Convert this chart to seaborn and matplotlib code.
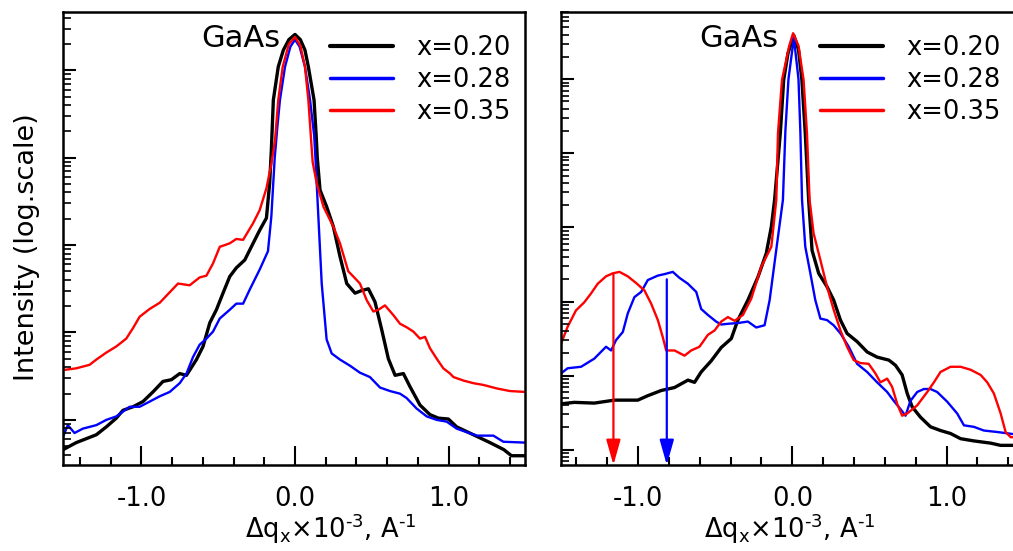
import numpy as np
import pandas as pd
import matplotlib
matplotlib.use('Agg')
import matplotlib.pyplot as plt
import matplotlib.ticker as mticker
import seaborn as sns

# Datos: q en 1e-3 A^-1, intensidad en log10
labels = ['x=0.20', 'x=0.28', 'x=0.35']
colores = ['#000000', '#0000ff', '#ff0000']
anchos = [2.4, 1.7, 1.7]
anchos_leyenda = [3.0, 2.5, 2.5]

# Panel izquierdo
q_l_020 = [-1.51, -1.425, -1.294, -1.229, -1.164, -1.12, -1.055, -0.99, -0.925, -0.86, -0.805, -0.751,
           -0.707, -0.642, -0.599, -0.555, -0.512, -0.469, -0.425, -0.382, -0.327, -0.273, -0.230,
           -0.186, -0.165, -0.154, -0.141, -0.109, -0.076, -0.04, 0.0, 0.035, 0.065, 0.087, 0.124,
           0.138, 0.145, 0.163, 0.206, 0.25, 0.293, 0.337, 0.391, 0.434, 0.478, 0.521, 0.565, 0.608,
           0.652, 0.706, 0.749, 0.814, 0.879, 0.934, 0.999, 1.053, 1.162, 1.27, 1.36, 1.41, 1.50]
logI_l_020 = [0.66, 0.74, 0.83, 0.92, 1.02, 1.11, 1.15, 1.21, 1.32, 1.44, 1.46, 1.53,
              1.51, 1.69, 1.84, 2.11, 2.26, 2.45, 2.64, 2.74, 2.83, 3.02, 3.17,
              3.31, 3.71, 4.09, 4.66, 5.04, 5.23, 5.35, 5.41, 5.35, 5.23, 5.04, 4.66,
              4.25, 4.00, 3.63, 3.44, 3.21, 2.87, 2.56, 2.45, 2.48, 2.50, 2.35, 2.03, 1.70,
              1.51, 1.53, 1.38, 1.17, 1.06, 1.02, 1.01, 0.92, 0.83, 0.74, 0.66, 0.59, 0.59]

q_l_028 = [-1.51, -1.48, -1.436, -1.382, -1.294, -1.229, -1.164, -1.077, -1.012, -0.946, -0.881,
           -0.816, -0.751, -0.707, -0.664, -0.621, -0.577, -0.534, -0.490, -0.425, -0.382, -0.338,
           -0.295, -0.23, -0.176, -0.154, -0.132, -0.115, -0.098, -0.065, -0.03, 0.0, 0.03, 0.065,
           0.098, 0.125, 0.133, 0.152, 0.174, 0.206, 0.239, 0.293, 0.358, 0.423, 0.488, 0.554,
           0.619, 0.684, 0.727, 0.792, 0.858, 0.923, 0.988, 1.053, 1.118, 1.184, 1.292, 1.357, 1.50]
logI_l_028 = [0.81, 0.94, 0.85, 0.90, 0.94, 1.00, 1.04, 1.15, 1.15, 1.21, 1.27,
              1.32, 1.42, 1.53, 1.72, 1.86, 1.93, 2.01, 2.16, 2.26, 2.33, 2.33,
              2.49, 2.72, 2.93, 3.33, 4.00, 4.35, 4.66, 5.04, 5.27, 5.35, 5.27, 5.04,
              4.66, 4.25, 4.00, 3.33, 2.56, 1.92, 1.76, 1.69, 1.62, 1.54, 1.49, 1.37,
              1.33, 1.30, 1.25, 1.13, 1.04, 1.00, 0.98, 0.90, 0.86, 0.82, 0.82, 0.75, 0.74]

q_l_035 = [-1.51, -1.425, -1.338, -1.294, -1.229, -1.164, -1.099, -1.055, -1.012, -0.946, -0.881,
           -0.816, -0.762, -0.686, -0.621, -0.577, -0.534, -0.490, -0.425, -0.382, -0.338, -0.273,
           -0.230, -0.186, -0.154, -0.13, -0.109, -0.080, -0.04, 0.0, 0.035, 0.065, 0.087, 0.105,
           0.115, 0.141, 0.185, 0.25, 0.293, 0.347, 0.380, 0.423, 0.467, 0.510, 0.543, 0.586,
           0.640, 0.684, 0.727, 0.771, 0.814, 0.847, 0.879, 0.923, 0.966, 1.010, 1.032, 1.097,
           1.162, 1.227, 1.314, 1.40, 1.50]
logI_l_035 = [1.57, 1.59, 1.63, 1.69, 1.77, 1.84, 1.93, 2.05, 2.18, 2.27, 2.34,
              2.46, 2.56, 2.54, 2.63, 2.65, 2.79, 2.98, 3.02, 3.07, 3.06, 3.25,
              3.40, 3.65, 3.93, 4.20, 4.66, 5.04, 5.30, 5.38, 5.28, 5.04, 4.66, 4.20,
              3.95, 3.71, 3.44, 3.21, 3.02, 2.70, 2.64, 2.56, 2.37, 2.24, 2.26, 2.31,
              2.20, 2.10, 2.06, 2.01, 1.93, 1.95, 1.82, 1.70, 1.59, 1.53, 1.49, 1.45,
              1.42, 1.40, 1.36, 1.33, 1.32]

# Panel derecho
q_r_020 = [-1.50, -1.414, -1.284, -1.154, -1.002, -0.937, -0.850, -0.764, -0.677, -0.634, -0.591,
           -0.526, -0.461, -0.396, -0.353, -0.288, -0.223, -0.169, -0.136, -0.115, -0.078, -0.056,
           -0.028, 0.01, 0.04, 0.062, 0.084, 0.106, 0.128, 0.171, 0.225, 0.268, 0.312, 0.355, 0.42,
           0.485, 0.55, 0.626, 0.669, 0.712, 0.745, 0.777, 0.831, 0.896, 0.961, 1.026, 1.091,
           1.177, 1.286, 1.35, 1.44]
logI_r_020 = [0.62, 0.64, 0.63, 0.67, 0.67, 0.73, 0.80, 0.84, 0.94, 0.91, 1.05,
              1.20, 1.38, 1.50, 1.75, 2.02, 2.33, 2.65, 3.01, 3.37, 4.27, 4.99,
              5.35, 5.59, 5.40, 4.99, 4.27, 3.37, 2.69, 2.38, 2.20, 2.02, 1.75, 1.57, 1.46,
              1.32, 1.25, 1.21, 1.14, 1.01, 0.76, 0.58, 0.44, 0.31, 0.26, 0.22, 0.15,
              0.12, 0.09, 0.06, 0.06]

q_r_028 = [-1.50, -1.457, -1.370, -1.284, -1.208, -1.175, -1.143, -1.099, -1.067, -1.024, -0.980,
           -0.937, -0.872, -0.829, -0.775, -0.732, -0.677, -0.623, -0.591, -0.548, -0.494, -0.461,
           -0.418, -0.353, -0.288, -0.234, -0.180, -0.147, -0.104, -0.061, -0.045, -0.025, 0.01,
           0.04, 0.052, 0.063, 0.084, 0.117, 0.149, 0.182, 0.225, 0.268, 0.312, 0.366, 0.42, 0.485,
           0.55, 0.615, 0.658, 0.701, 0.734, 0.766, 0.81, 0.853, 0.896, 0.939, 1.004, 1.069,
           1.113, 1.177, 1.242, 1.329, 1.44]
logI_r_028 = [1.03, 1.10, 1.12, 1.23, 1.39, 1.34, 1.48, 1.59, 1.84, 2.06, 2.13,
              2.29, 2.35, 2.37, 2.40, 2.32, 2.24, 2.13, 1.90, 1.82, 1.73, 1.69,
              1.70, 1.71, 1.73, 1.65, 1.68, 2.02, 2.70, 3.37, 4.30, 5.00, 5.56,
              5.00, 4.30, 3.37, 2.74, 2.38, 2.02, 1.77, 1.75, 1.68, 1.57, 1.39, 1.16, 1.05,
              0.91, 0.78, 0.66, 0.55, 0.46, 0.66, 0.78, 0.82, 0.82, 0.78, 0.65, 0.49,
              0.33, 0.31, 0.26, 0.24, 0.21]

q_r_035 = [-1.50, -1.457, -1.403, -1.349, -1.305, -1.262, -1.208, -1.165, -1.121, -1.067, -1.013,
           -0.959, -0.915, -0.872, -0.840, -0.818, -0.764, -0.699, -0.656, -0.602, -0.548, -0.504,
           -0.461, -0.418, -0.374, -0.320, -0.266, -0.201, -0.136, -0.104, -0.093, -0.067, -0.02,
           0.005, 0.04, 0.073, 0.095, 0.112, 0.138, 0.182, 0.225, 0.268, 0.312, 0.355, 0.398,
           0.442, 0.495, 0.539, 0.571, 0.615, 0.647, 0.680, 0.712, 0.745, 0.81, 0.875, 0.918,
           0.961, 1.026, 1.091, 1.156, 1.221, 1.264, 1.307, 1.351, 1.383, 1.416, 1.44]
logI_r_035 = [1.43, 1.66, 1.88, 1.99, 2.11, 2.24, 2.34, 2.38, 2.40, 2.34, 2.25,
              2.15, 1.97, 1.75, 1.52, 1.34, 1.34, 1.27, 1.34, 1.39, 1.55, 1.61,
              1.73, 1.79, 1.74, 1.82, 2.04, 2.47, 2.74, 3.37, 4.27, 4.99, 5.45,
              5.62, 5.45, 4.99, 4.27, 3.37, 2.92, 2.56, 2.20, 1.89, 1.61, 1.39, 1.21,
              1.17, 1.16, 1.03, 0.91, 0.96, 0.85, 0.62, 0.46, 0.49, 0.60, 0.78, 0.91,
              1.05, 1.12, 1.12, 1.08, 1.01, 0.91, 0.76, 0.49, 0.24, 0.17, 0.17]

# Flechas del panel derecho
flecha_q = [-1.16, -0.814]
flecha_logI = [2.38, 2.30]
flecha_col = ['#ff0000', '#0000ff']

sns.set_style('ticks')
plt.rcParams['font.family'] = ['DejaVu Sans']
plt.rcParams['mathtext.fontset'] = 'dejavusans'
plt.rcParams['xtick.bottom'] = True
plt.rcParams['ytick.left'] = True
plt.rcParams['axes.axisbelow'] = False
plt.rcParams['text.color'] = 'black'
plt.rcParams['axes.labelcolor'] = 'black'
plt.rcParams['xtick.color'] = 'black'
plt.rcParams['ytick.color'] = 'black'

fig = plt.figure(figsize=(10.13, 5.51), dpi=100)
ax1 = fig.add_axes([63 / 1013, 86 / 551, 462 / 1013, 453.3 / 551])
ax2 = fig.add_axes([561 / 1013, 86 / 551, 452 / 1013, 453.3 / 551])

paneles = [
    (ax1, [(q_l_020, logI_l_020), (q_l_028, logI_l_028), (q_l_035, logI_l_035)], (0.484, 5.67), (-1.511, 1.498)),
    (ax2, [(q_r_020, logI_r_020), (q_r_028, logI_r_028), (q_r_035, logI_r_035)], (-0.205, 5.91), (-1.50, 1.431)),
]

etiqueta_x = r'$\Delta$q$_\mathregular{x}$×10$^\mathregular{‐3}$, A$^\mathregular{‐1}$'

for ax, curvas, ylog, xl in paneles:
    for (q, li), lab, c, w in zip(curvas, labels, colores, anchos):
        df = pd.DataFrame({'q': q, 'I': 10 ** np.array(li)})
        sns.lineplot(data=df, x='q', y='I', ax=ax, color=c, linewidth=w, label=lab,
                     estimator=None, sort=False)
    ax.set_yscale('log')
    ax.set_ylim(10 ** ylog[0], 10 ** ylog[1])
    ax.set_xlim(*xl)
    ax.yaxis.set_major_locator(mticker.LogLocator(base=10, numticks=20))
    ax.yaxis.set_minor_locator(mticker.LogLocator(base=10, subs=np.arange(2, 10), numticks=20))
    ax.yaxis.set_major_formatter(mticker.NullFormatter())
    ax.yaxis.set_minor_formatter(mticker.NullFormatter())
    ax.xaxis.set_major_locator(mticker.MultipleLocator(1.0))
    ax.xaxis.set_minor_locator(mticker.MultipleLocator(0.2))
    ax.xaxis.set_major_formatter(mticker.FormatStrFormatter('%.1f'))
    ax.tick_params(axis='x', which='both', bottom=True, top=False, direction='in',
                   color='black', width=1.5)
    ax.tick_params(axis='x', which='major', length=13.5, pad=15, labelsize=18.5, labelcolor='black')
    ax.tick_params(axis='x', which='minor', length=6)
    ax.tick_params(axis='y', which='both', left=True, right=False, direction='in', color='black')
    ax.tick_params(axis='y', which='major', length=9.5, width=1.5)
    ax.tick_params(axis='y', which='minor', length=5.5, width=1.2)
    for s in ax.spines.values():
        s.set_linewidth(1.8)
        s.set_color('black')
    ax.set_xlabel(etiqueta_x, fontsize=18.5, color='black')
    ax.set_ylabel('')

ax2.spines['right'].set_visible(False)

ax1.set_ylabel('Intensity (log.scale)', fontsize=19.5, color='black')
ax1.yaxis.set_label_coords(-0.049, 0.481)
ax1.xaxis.set_label_coords(0.58, -0.103)
ax2.xaxis.set_label_coords(0.507, -0.103)

ax1.text(0.4697, 0.922, 'GaAs', transform=ax1.transAxes, ha='right', va='baseline',
         fontsize=22, color='black')
ax2.text(0.480, 0.922, 'GaAs', transform=ax2.transAxes, ha='right', va='baseline',
         fontsize=22, color='black')

for ax, x0 in [(ax1, 0.578), (ax2, 0.573)]:
    leg = ax.legend(loc='upper left', bbox_to_anchor=(x0, 0.949), frameon=False, fontsize=18.5,
                    handlelength=2.45, handletextpad=0.9, labelspacing=0.24, borderpad=0,
                    borderaxespad=0, labelcolor='black')
    for h, w in zip(leg.get_lines(), anchos_leyenda):
        h.set_linewidth(w)

y_bot = ax2.get_ylim()[0]
for q, li, c in zip(flecha_q, flecha_logI, flecha_col):
    ax2.annotate('', xy=(q, y_bot), xytext=(q, 10 ** li),
                 arrowprops=dict(arrowstyle='-|>,head_length=0.85,head_width=0.24', color=c,
                                 lw=1.6, mutation_scale=18, shrinkA=0, shrinkB=0))

fig.savefig('out.png', dpi=100)
